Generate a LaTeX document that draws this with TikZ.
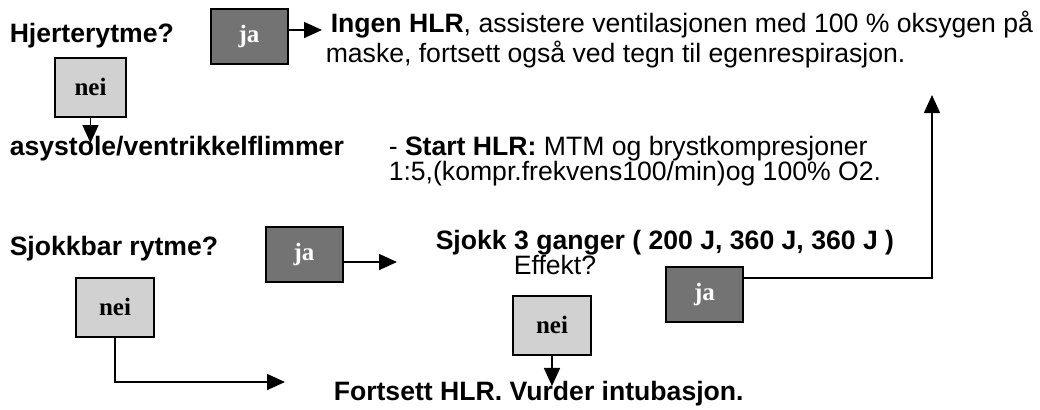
\documentclass[tikz,border=0pt]{standalone}
\usepackage{fontspec}
\setmainfont{Liberation Serif}
\setsansfont{Liberation Sans}
\usetikzlibrary{arrows.meta}
\begin{document}
\begin{tikzpicture}
      [x=0.5pt,y=-0.5pt,
       jabox/.style={rectangle,draw,line width=1pt,fill=black!55,text=white,
         minimum width=38.5pt,minimum height=27.5pt,inner sep=0pt,
         font=\fontsize{12.5}{13}\selectfont\bfseries},
       neibox/.style={rectangle,draw,line width=1pt,fill=black!18,
         minimum width=39pt,minimum height=29.5pt,inner sep=0pt,
         font=\fontsize{12.5}{13}\selectfont\bfseries},
       lbl/.style={inner sep=0pt,align=left,anchor=base west,
         font=\sffamily\fontsize{13.3}{12.5}\selectfont},
       >={Triangle[length=9pt,width=8pt]},line width=0.75pt]
      \useasboundingbox (0,0) rectangle (1040,409);
      % first question
      \node[lbl] (hjerte) at (9,42) {\textbf{Hjerterytme?}};
      \node[jabox] (ja1) at (249,36.5) {ja};
      \node[lbl] (ingen) at (325,62) {\hspace{2.5pt}\textbf{Ingen HLR}, assistere ventilasjonen med 100 \% oksygen på\\maske, fortsett også ved tegn til egenrespirasjon.};
      \node[neibox,minimum width=35.5pt] (nei1) at (90.5,87) {nei};
      \node[lbl] (asys) at (9,155) {\textbf{asystole/ventrikkelflimmer}};
      \node[lbl] (starthlr) at (388,180) {- \textbf{Start HLR:} MTM og brystkompresjoner\\1:5,(kompr.frekvens100/min)og 100\% O2.};
      % second question
      \node[lbl] (sjokkbar) at (9,255) {\textbf{Sjokkbar rytme?}};
      \node[jabox] (ja2) at (304,254) {ja};
      \node[neibox] (nei2) at (115,307) {nei};
      \node[lbl] (sjokk) at (435,249) {\textbf{Sjokk 3 ganger ( 200 J, 360 J, 360 J )}};
      \node[lbl,anchor=base] (effekt) at (555,274) {Effekt?};
      \node[neibox] (nei3) at (552,325) {nei};
      \node[jabox] (ja3) at (704.5,294.5) {ja};
      \node[lbl] (fortsett) at (333,400) {\textbf{Fortsett HLR. Vurder intubasjon.}};
      % free arrow ends
      \coordinate (tipingen) at (322,30);
      \coordinate (tipasys) at (90,143);
      \coordinate (tipsjokk) at (397,262);
      \coordinate (tipfortsett) at (285,382);
      \coordinate (knee) at (932,278);
      \coordinate (tipup) at (932,95);
      \draw[->] (ja1.east |- tipingen) -- (tipingen);
      \draw[->] (nei1) -- (nei1 |- tipasys);
      \draw[->] (ja2.east |- tipsjokk) -- (tipsjokk);
      \draw[->] (nei2.south) |- (tipfortsett);
      \draw[->,shorten >=-3pt] (nei3) -- (nei3 |- fortsett.north);
      \draw[->] (ja3.east |- knee) -- (knee) -- (tipup);
    \end{tikzpicture}
\end{document}
